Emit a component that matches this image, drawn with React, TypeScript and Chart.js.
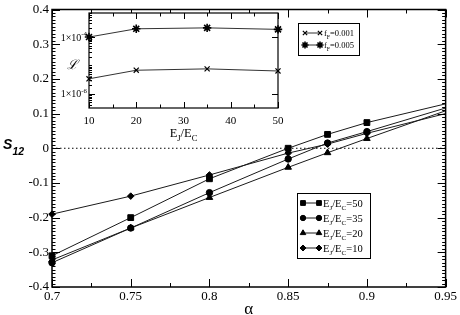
import React, { useEffect, useRef } from 'react';
import { Chart, registerables } from 'chart.js';
import { drawPoint } from 'chart.js/helpers';

Chart.register(...registerables);

// ---------- main plot data ----------
const alphaValues = [0.7, 0.75, 0.8, 0.85, 0.875, 0.9, 0.95];
const s12_EJ50 = [-0.31, -0.2, -0.088, 0.0, 0.04, 0.074, 0.128];
const s12_EJ35 = [-0.33, -0.23, -0.128, -0.031, 0.015, 0.048, 0.116];
const s12_EJ20 = [-0.322, -0.23, -0.142, -0.055, -0.013, 0.028, 0.108];
const s12_EJ10 = [-0.19, -0.138, -0.077, -0.014, 0.012, 0.043, 0.1];
const ratioLabels = ['50', '35', '20', '10'];
const xRange = [0.7, 0.95];
const yRange = [-0.4, 0.4];

// ---------- inset data ----------
const ejecValues = [10, 20, 35, 50];
const L_f001 = [3.4e-6, 6.8e-6, 7.6e-6, 6.4e-6];
const L_f005 = [1.0e-4, 1.95e-4, 2.1e-4, 1.86e-4];
const fLabels = ['0.001', '0.005'];
const insetXRange = [10, 50];
const insetYRange = [3.2e-7, 7e-4];
const insetLabelExponents = [-4, -6];

const SERIF = '"Liberation Serif", "Times New Roman", serif';

type Part = { t: string; sub?: boolean; sup?: boolean };

function drawRich(ctx: CanvasRenderingContext2D, parts: Part[], x: number, y: number, size: number, align: 'left' | 'center' | 'right' = 'left') {
  const small = size * 0.68;
  let w = 0;
  for (const p of parts) {
    ctx.font = `${p.sub || p.sup ? small : size}px ${SERIF}`;
    w += ctx.measureText(p.t).width;
  }
  let cx = align === 'center' ? x - w / 2 : align === 'right' ? x - w : x;
  ctx.textAlign = 'left';
  ctx.textBaseline = 'alphabetic';
  for (const p of parts) {
    ctx.font = `${p.sub || p.sup ? small : size}px ${SERIF}`;
    const dy = p.sub ? size * 0.3 : p.sup ? -size * 0.42 : 0;
    ctx.fillText(p.t, cx, y + dy);
    cx += ctx.measureText(p.t).width;
  }
}

const fmt = (v: any) => String(Number(Number(v).toFixed(3)));

const mainSeries = [
  { data: s12_EJ50, style: 'rect', radius: 4.1, legendRadius: 3.4 },
  { data: s12_EJ35, style: 'circle', radius: 3.2, legendRadius: 2.7 },
  { data: s12_EJ20, style: 'triangle', radius: 3.8, legendRadius: 3.2 },
  { data: s12_EJ10, style: 'rectRot', radius: 3.3, legendRadius: 3.0 },
];

const mainDecor = {
  id: 'mainDecor',
  afterDraw(chart: any) {
    const { ctx, chartArea: a, scales } = chart;
    const xs = scales.x, ys = scales.y;
    ctx.save();
    ctx.strokeStyle = '#000';
    ctx.fillStyle = '#000';
    ctx.lineWidth = 1.5;
    ctx.strokeRect(a.left, a.top, a.right - a.left, a.bottom - a.top);
    ctx.lineWidth = 1;
    ctx.beginPath();
    for (let i = 0; i <= 10; i++) {
      const v = xRange[0] + i * 0.025;
      const px = Math.round(xs.getPixelForValue(v)) + 0.5;
      const len = i % 2 === 0 ? 8 : 4;
      ctx.moveTo(px, a.bottom); ctx.lineTo(px, a.bottom - len);
      ctx.moveTo(px, a.top); ctx.lineTo(px, a.top + len);
    }
    for (let i = -40; i <= 40; i++) {
      const py = Math.round(ys.getPixelForValue(i / 100)) + 0.5;
      const len = i % 10 === 0 ? 8 : 3.5;
      ctx.moveTo(a.left, py); ctx.lineTo(a.left + len, py);
      ctx.moveTo(a.right, py); ctx.lineTo(a.right - len, py);
    }
    ctx.stroke();

    // y-axis title S12
    ctx.textAlign = 'left';
    ctx.textBaseline = 'alphabetic';
    ctx.font = "italic bold 14px 'Liberation Sans', Arial, sans-serif";
    ctx.fillText('S', 3, 149);
    ctx.font = "italic bold 10.5px 'Liberation Sans', Arial, sans-serif";
    ctx.fillText('12', 12.5, 154.5);

    // legend
    const bx = 297.5, by = 193.5, bw = 73, bh = 65;
    ctx.lineWidth = 1;
    ctx.strokeRect(bx, by, bw, bh);
    mainSeries.forEach((s, i) => {
      const cy = 203 + i * 15;
      ctx.strokeStyle = '#1a1a1a';
      ctx.beginPath();
      ctx.moveTo(303, cy); ctx.lineTo(319, cy);
      ctx.stroke();
      ctx.fillStyle = '#000';
      ctx.strokeStyle = '#000';
      ctx.lineWidth = 1;
      drawPoint(ctx, { pointStyle: s.style as any, radius: s.legendRadius, borderWidth: 1, rotation: 0 }, 303, cy);
      drawPoint(ctx, { pointStyle: s.style as any, radius: s.legendRadius, borderWidth: 1, rotation: 0 }, 319, cy);
      ctx.fillStyle = '#000';
      drawRich(ctx, [{ t: 'E' }, { t: 'J', sub: true }, { t: '/E' }, { t: 'C', sub: true }, { t: '=' + ratioLabels[i] }], 323, cy + 3.5, 10.5);
    });
    ctx.restore();
  },
};

const insetSeries = [
  { data: L_f001, style: 'crossRot', radius: 3.6, bw: 1.2 },
  { data: L_f005, style: 'star', radius: 4.2, bw: 1.6 },
];

const insetDecor = {
  id: 'insetDecor',
  beforeDatasetsDraw(chart: any) {
    const { ctx, chartArea: a } = chart;
    ctx.save();
    ctx.fillStyle = '#fff';
    ctx.fillRect(a.left, a.top, a.right - a.left, a.bottom - a.top);
    ctx.restore();
  },
  afterDraw(chart: any) {
    const { ctx, chartArea: a, scales } = chart;
    const xs = scales.x, ys = scales.y;
    ctx.save();
    ctx.strokeStyle = '#000';
    ctx.fillStyle = '#000';
    ctx.lineWidth = 1.2;
    ctx.strokeRect(a.left, a.top, a.right - a.left, a.bottom - a.top);
    ctx.lineWidth = 1;
    ctx.beginPath();
    for (let v = insetXRange[0]; v <= insetXRange[1]; v += 5) {
      const px = Math.round(xs.getPixelForValue(v)) + 0.5;
      const len = v % 10 === 0 ? 6 : 3.5;
      ctx.moveTo(px, a.bottom); ctx.lineTo(px, a.bottom - len);
      ctx.moveTo(px, a.top); ctx.lineTo(px, a.top + len);
    }
    const e0 = Math.floor(Math.log10(insetYRange[0]));
    const e1 = Math.ceil(Math.log10(insetYRange[1]));
    for (let e = e0; e <= e1; e++) {
      for (let m = 1; m <= 9; m++) {
        const v = m * Math.pow(10, e);
        if (v < insetYRange[0] || v > insetYRange[1]) continue;
        const py = Math.round(ys.getPixelForValue(v)) + 0.5;
        const major = m === 1 && insetLabelExponents.includes(e);
        ctx.moveTo(a.left, py); ctx.lineTo(a.left + (major ? 6 : 3), py);
        if (major) { ctx.moveTo(a.right, py); ctx.lineTo(a.right - 6, py); }
      }
    }
    ctx.stroke();

    // y tick labels 1×10^e
    for (const e of insetLabelExponents) {
      const py = ys.getPixelForValue(Math.pow(10, e));
      drawRich(ctx, [{ t: '1×10' }, { t: String(e), sup: true }], a.left - 2, py + 3.5, 10, 'right');
    }

    // y label
    ctx.font = "italic 13px 'DejaVu Serif', serif";
    ctx.textAlign = 'center';
    ctx.textBaseline = 'middle';
    ctx.fillText('ℒ', 72, 66);

    // x title
    drawRich(ctx, [{ t: 'E' }, { t: 'J', sub: true }, { t: '/E' }, { t: 'C', sub: true }], (a.left + a.right) / 2, 137, 12.5, 'center');

    // legend
    ctx.lineWidth = 1;
    ctx.strokeStyle = '#000';
    ctx.strokeRect(298.5, 23.5, 61, 32);
    insetSeries.forEach((s, i) => {
      const cy = 33 + i * 12;
      ctx.strokeStyle = '#333';
      ctx.beginPath();
      ctx.moveTo(305, cy); ctx.lineTo(320, cy);
      ctx.stroke();
      ctx.strokeStyle = '#000';
      ctx.fillStyle = '#000';
      ctx.lineWidth = s.bw;
      drawPoint(ctx, { pointStyle: s.style as any, radius: s.radius * 0.85, borderWidth: s.bw, rotation: 0 }, 305, cy);
      drawPoint(ctx, { pointStyle: s.style as any, radius: s.radius * 0.85, borderWidth: s.bw, rotation: 0 }, 320, cy);
      ctx.lineWidth = 1;
      ctx.fillStyle = '#000';
      drawRich(ctx, [{ t: 'f' }, { t: 'F', sub: true }, { t: '=' + fLabels[i] }], 324, cy + 3, 8.5);
    });
    ctx.restore();
  },
};

export default function App() {
  const mainRef = useRef<HTMLCanvasElement>(null);
  const insetRef = useRef<HTMLCanvasElement>(null);

  useEffect(() => {
    const mainChart = new Chart(mainRef.current!, {
      type: 'line',
      data: {
        datasets: [
          ...mainSeries.map((s) => ({
            data: alphaValues.map((x, i) => ({ x, y: s.data[i] })),
            borderColor: '#1a1a1a',
            backgroundColor: '#000',
            borderWidth: 1,
            pointStyle: s.style as any,
            pointRadius: (c: any) => (c.dataIndex === alphaValues.length - 1 ? 0 : s.radius),
            pointBorderColor: '#000',
            pointBackgroundColor: '#000',
            pointBorderWidth: 1,
            tension: 0,
            clip: false as any,
          })),
          {
            data: xRange.map((x) => ({ x, y: 0 })),
            borderColor: '#000',
            borderWidth: 1,
            borderDash: [1.5, 2.5],
            pointRadius: 0,
          },
        ],
      },
      options: {
        responsive: false,
        animation: false,
        layout: { padding: { left: 0, right: 13, top: 6, bottom: 0 } },
        plugins: { legend: { display: false }, tooltip: { enabled: false } },
        scales: {
          x: {
            type: 'linear',
            min: xRange[0],
            max: xRange[1],
            afterFit: (s: any) => { s.height = 28; },
            grid: { display: false, drawTicks: false },
            border: { display: false },
            ticks: { stepSize: 0.05, padding: 3, color: '#000', font: { family: SERIF, size: 13, lineHeight: 1 }, callback: fmt, maxRotation: 0, autoSkip: false },
            title: { display: true, text: 'α', color: '#000', font: { family: SERIF, size: 17, lineHeight: 0.7 }, padding: { top: 0, bottom: 0 } },
          },
          y: {
            min: yRange[0],
            max: yRange[1],
            afterFit: (s: any) => { s.width = 52; },
            grid: { display: false, drawTicks: false },
            border: { display: false },
            ticks: { stepSize: 0.1, padding: 3, color: '#000', font: { family: SERIF, size: 13, lineHeight: 1 }, callback: fmt, autoSkip: false },
          },
        },
      },
      plugins: [mainDecor],
    });

    const insetChart = new Chart(insetRef.current!, {
      type: 'line',
      data: {
        datasets: insetSeries.map((s) => ({
          data: ejecValues.map((x, i) => ({ x, y: s.data[i] })),
          borderColor: '#333',
          borderWidth: 1,
          pointStyle: s.style as any,
          pointRadius: s.radius,
          pointBorderColor: '#000',
          pointBackgroundColor: '#000',
          pointBorderWidth: s.bw,
          tension: 0,
          clip: false as any,
        })),
      },
      options: {
        responsive: false,
        animation: false,
        layout: { padding: { left: 49, right: 182, top: 13, bottom: 177 } },
        plugins: { legend: { display: false }, tooltip: { enabled: false } },
        scales: {
          x: {
            type: 'linear',
            min: insetXRange[0],
            max: insetXRange[1],
            afterFit: (s: any) => { s.height = 30; },
            grid: { display: false, drawTicks: false },
            border: { display: false },
            ticks: { stepSize: 10, padding: 8, color: '#000', font: { family: SERIF, size: 11, lineHeight: 1 }, maxRotation: 0, autoSkip: false },
          },
          y: {
            type: 'logarithmic',
            min: insetYRange[0],
            max: insetYRange[1],
            afterFit: (s: any) => { s.width = 40; },
            grid: { display: false, drawTicks: false },
            border: { display: false },
            ticks: { display: false },
          },
        },
      },
      plugins: [insetDecor],
    });

    return () => {
      mainChart.destroy();
      insetChart.destroy();
    };
  }, []);

  return (
    <div style={{ position: 'absolute', left: 0, top: 0, width: 460, height: 315, background: '#fff' }}>
      <canvas ref={mainRef} width={460} height={315} style={{ position: 'absolute', left: 0, top: 0 }} />
      <canvas ref={insetRef} width={460} height={315} style={{ position: 'absolute', left: 0, top: 0 }} />
    </div>
  );
}
